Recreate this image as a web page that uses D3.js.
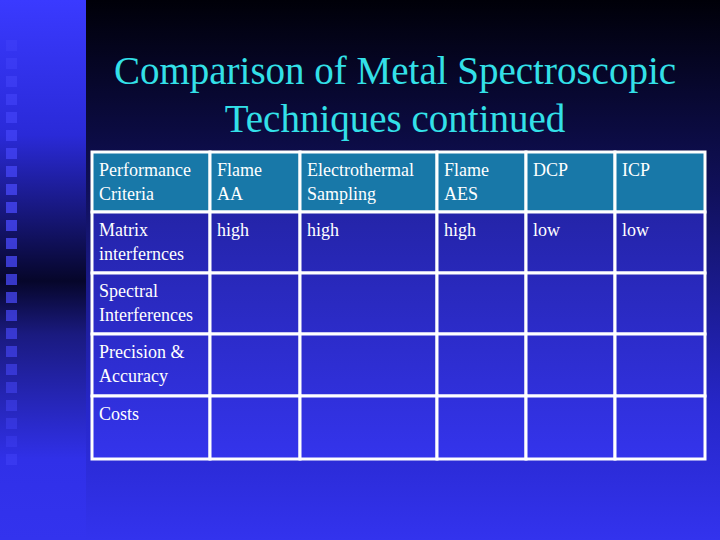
<!DOCTYPE html>
<html><head><meta charset="utf-8">
<script src="https://cdn.jsdelivr.net/npm/d3@7"></script>
<style>body{margin:0;background:#000} text{font-family:"Liberation Serif","DejaVu Serif",serif}</style></head>
<body><script>
const titleLines = ["Comparison of Metal Spectroscopic", "Techniques continued"];
const columns = ["Performance\nCriteria", "Flame\nAA", "Electrothermal\nSampling", "Flame\nAES", "DCP", "ICP"];
const rows = ["Matrix\ninterfernces", "Spectral\nInterferences", "Precision &\nAccuracy", "Costs"];
const values = [["high", "high", "high", "low", "low"], ["", "", "", "", ""], ["", "", "", "", ""], ["", "", "", "", ""]];
const colEdges = [92, 210, 300, 437, 526, 615, 705];
const rowEdges = [152, 212, 273, 334, 396, 459];

const W = 720, H = 540;
const svg = d3.select("body").append("svg").attr("width", W).attr("height", H);
const defs = svg.append("defs");
const g1 = defs.append("linearGradient").attr("id", "bg").attr("x1", 0).attr("y1", 0).attr("x2", 0).attr("y2", 1);
g1.append("stop").attr("offset", "0%").attr("stop-color", "#000008");
g1.append("stop").attr("offset", "35%").attr("stop-color", "#10105a");
g1.append("stop").attr("offset", "75%").attr("stop-color", "#2626c8");
g1.append("stop").attr("offset", "100%").attr("stop-color", "#3333ee");
const g2 = defs.append("linearGradient").attr("id", "strip").attr("x1", 0).attr("y1", 0).attr("x2", 0).attr("y2", 1);
g2.append("stop").attr("offset", "0%").attr("stop-color", "#3a3aff");
g2.append("stop").attr("offset", "25%").attr("stop-color", "#2a2ad8");
g2.append("stop").attr("offset", "52%").attr("stop-color", "#06062a");
g2.append("stop").attr("offset", "62%").attr("stop-color", "#1a1a80");
g2.append("stop").attr("offset", "85%").attr("stop-color", "#3030e8");
g2.append("stop").attr("offset", "100%").attr("stop-color", "#3333ee");
const g3 = defs.append("linearGradient").attr("id", "cell").attr("gradientUnits", "userSpaceOnUse")
  .attr("x1", 0).attr("y1", 212).attr("x2", 0).attr("y2", 459);
g3.append("stop").attr("offset", "0%").attr("stop-color", "#2424a8");
g3.append("stop").attr("offset", "100%").attr("stop-color", "#3434ec");

svg.append("rect").attr("width", W).attr("height", H).attr("fill", "url(#bg)");
svg.append("rect").attr("width", 86).attr("height", H).attr("fill", "url(#strip)");
const sq = d3.range(24);
svg.selectAll(".sq").data(sq).join("rect")
  .attr("x", 6).attr("y", d => 40 + d * 18).attr("width", 11).attr("height", 11)
  .attr("fill", "#4a4aff").attr("opacity", d => 0.3 + 0.45 * Math.abs(Math.sin(d / 7)));

svg.selectAll(".title").data(titleLines).join("text")
  .attr("x", 395).attr("y", (d, i) => 84 + i * 48).attr("text-anchor", "middle")
  .attr("font-size", 39)
  .attr("fill", "#33e0e8").text(d => d);

const x = d3.scaleOrdinal().domain(d3.range(7)).range(colEdges);
const y = d3.scaleOrdinal().domain(d3.range(6)).range(rowEdges);
const grid = [columns].concat(rows.map((r, i) => [r].concat(values[i])));
const cells = [];
grid.forEach((row, ri) => row.forEach((t, ci) => cells.push({ri, ci, t})));
svg.selectAll(".cell").data(cells).join("rect")
  .attr("x", d => x(d.ci)).attr("y", d => y(d.ri))
  .attr("width", d => x(d.ci + 1) - x(d.ci)).attr("height", d => y(d.ri + 1) - y(d.ri))
  .attr("fill", d => d.ri === 0 ? "#1878a8" : "url(#cell)")
  .attr("stroke", "#ffffff").attr("stroke-width", 3);
const tx = svg.selectAll(".txt").data(cells).join("text")
  .attr("font-size", 18)
  .attr("fill", "#ffffff");
tx.each(function(d) {
  d.t.split("\n").forEach((line, k) => {
    d3.select(this).append("tspan").attr("x", x(d.ci) + 7).attr("y", y(d.ri) + 24 + k * 24).text(line);
  });
});
</script></body></html>
